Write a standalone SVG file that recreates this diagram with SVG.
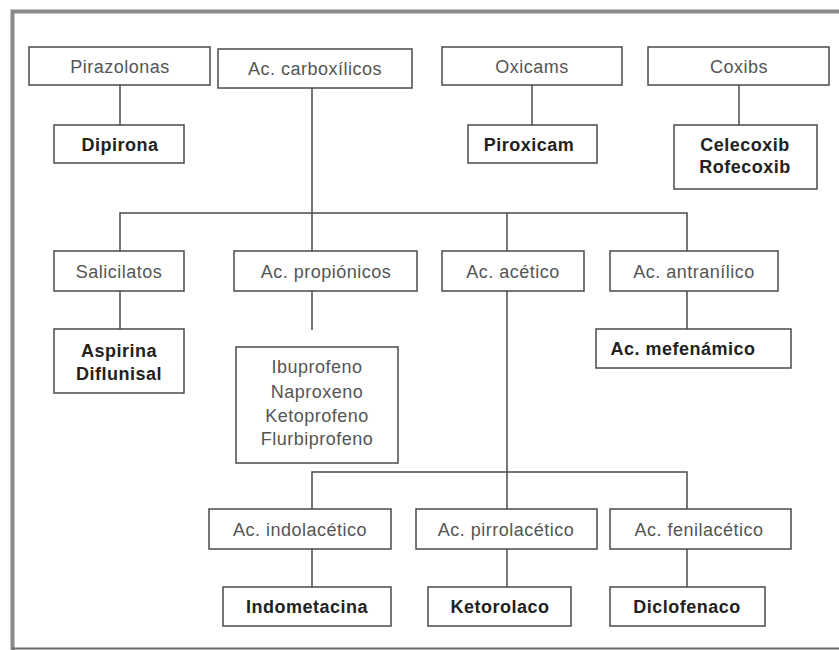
<svg xmlns="http://www.w3.org/2000/svg" width="839" height="650" viewBox="0 0 839 650">
  <style>
    .box { fill: #ffffff; stroke: #4a4a4a; stroke-width: 1.5; }
    .lbl { font-family: "Liberation Sans", Arial, sans-serif; font-size: 18px; fill: #555555; text-anchor: middle; letter-spacing: 0.5px; }
    .drug { font-family: "Liberation Sans", Arial, sans-serif; font-size: 18px; font-weight: bold; fill: #222222; text-anchor: middle; letter-spacing: 0.5px; }
    .wire { fill: none; stroke: #4a4a4a; stroke-width: 1.5; }
    .frame { fill: none; stroke: #8a8a8a; stroke-width: 4; }
  </style>

  <rect x="0" y="0" width="839" height="650" fill="#ffffff"/>

  <!-- outer frame -->
  <path class="frame" d="M 12.5 650 L 12.5 11.5 L 839 11.5"/>
  <line x1="12" y1="648.5" x2="839" y2="648.5" stroke="#6a6a6a" stroke-width="2"/>

  <!-- connectors -->
  <g id="connectors">
    <path class="wire" d="M 120 85 V 125"/>
    <path class="wire" d="M 532 85 V 125"/>
    <path class="wire" d="M 739 85 V 125"/>
    <path class="wire" d="M 312 88 V 251"/>
    <path class="wire" d="M 120 251 V 213 H 687 V 251"/>
    <path class="wire" d="M 507 213 V 251"/>
    <path class="wire" d="M 120 291 V 329"/>
    <path class="wire" d="M 312 291 V 330"/>
    <path class="wire" d="M 687 291 V 329"/>
    <path class="wire" d="M 507 291 V 509"/>
    <path class="wire" d="M 312 509 V 472 H 687 V 509"/>
    <path class="wire" d="M 312 549 V 587"/>
    <path class="wire" d="M 507 549 V 587"/>
    <path class="wire" d="M 687 549 V 587"/>
  </g>

  <!-- top row -->
  <g id="pirazolonas">
    <rect class="box" x="29" y="47" width="181" height="38"/>
    <text class="lbl" x="120" y="73">Pirazolonas</text>
  </g>
  <g id="carboxilicos">
    <rect class="box" x="218" y="49" width="194" height="39"/>
    <text class="lbl" x="315" y="75">Ac. carboxílicos</text>
  </g>
  <g id="oxicams">
    <rect class="box" x="442" y="47" width="180" height="38"/>
    <text class="lbl" x="532" y="73">Oxicams</text>
  </g>
  <g id="coxibs">
    <rect class="box" x="648" y="47" width="181" height="38"/>
    <text class="lbl" x="739" y="73">Coxibs</text>
  </g>

  <!-- second row -->
  <g id="dipirona">
    <rect class="box" x="54" y="125" width="130" height="38"/>
    <text class="drug" x="120" y="151">Dipirona</text>
  </g>
  <g id="piroxicam">
    <rect class="box" x="468" y="125" width="129" height="38"/>
    <text class="drug" x="529" y="151">Piroxicam</text>
  </g>
  <g id="celecoxib-rofecoxib">
    <rect class="box" x="674" y="125" width="143" height="64"/>
    <text class="drug" x="745" y="151">Celecoxib</text>
    <text class="drug" x="745" y="173">Rofecoxib</text>
  </g>

  <!-- carboxylic acid families -->
  <g id="salicilatos">
    <rect class="box" x="54" y="251" width="130" height="40"/>
    <text class="lbl" x="119" y="278">Salicilatos</text>
  </g>
  <g id="propionicos">
    <rect class="box" x="234" y="251" width="183" height="40"/>
    <text class="lbl" x="326" y="278">Ac. propiónicos</text>
  </g>
  <g id="acetico">
    <rect class="box" x="442" y="251" width="142" height="40"/>
    <text class="lbl" x="513" y="278">Ac. acético</text>
  </g>
  <g id="antranilico">
    <rect class="box" x="610" y="251" width="168" height="40"/>
    <text class="lbl" x="694" y="278">Ac. antranílico</text>
  </g>

  <g id="aspirina-diflunisal">
    <rect class="box" x="54" y="329" width="130" height="64"/>
    <text class="drug" x="119" y="357">Aspirina</text>
    <text class="drug" x="119" y="380">Diflunisal</text>
  </g>
  <g id="profenos">
    <rect class="box" x="236" y="347" width="162" height="116"/>
    <text class="lbl" x="317" y="373">Ibuprofeno</text>
    <text class="lbl" x="317" y="398">Naproxeno</text>
    <text class="lbl" x="317" y="422">Ketoprofeno</text>
    <text class="lbl" x="317" y="445">Flurbiprofeno</text>
  </g>
  <g id="mefenamico">
    <rect class="box" x="596" y="329" width="195" height="39"/>
    <text class="drug" x="683" y="355">Ac. mefenámico</text>
  </g>

  <!-- acetic acid subfamilies -->
  <g id="indolacetico">
    <rect class="box" x="209" y="509" width="182" height="40"/>
    <text class="lbl" x="300" y="536">Ac. indolacético</text>
  </g>
  <g id="pirrolacetico">
    <rect class="box" x="416" y="509" width="181" height="40"/>
    <text class="lbl" x="506" y="536">Ac. pirrolacético</text>
  </g>
  <g id="fenilacetico">
    <rect class="box" x="610" y="509" width="181" height="40"/>
    <text class="lbl" x="699" y="536">Ac. fenilacético</text>
  </g>

  <g id="indometacina">
    <rect class="box" x="223" y="587" width="168" height="39"/>
    <text class="drug" x="307" y="613">Indometacina</text>
  </g>
  <g id="ketorolaco">
    <rect class="box" x="428" y="587" width="143" height="39"/>
    <text class="drug" x="500" y="613">Ketorolaco</text>
  </g>
  <g id="diclofenaco">
    <rect class="box" x="610" y="587" width="155" height="39"/>
    <text class="drug" x="687" y="613">Diclofenaco</text>
  </g>
</svg>
